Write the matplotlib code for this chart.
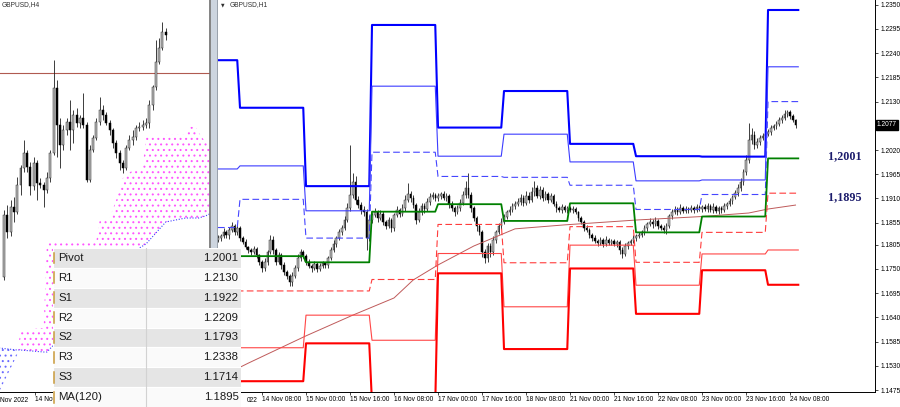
import numpy as np
import matplotlib
matplotlib.use("Agg")
import matplotlib.pyplot as plt
from matplotlib.patches import Rectangle

plt.rcParams['font.family'] = ['Liberation Sans', 'DejaVu Sans']
plt.rcParams['hatch.linewidth'] = 0.7

# ---------------- GBPUSD, H1 (right chart) ----------------
h1_first_open = 1.1816
h1_close = [
    1.1820, 1.1825, 1.1834, 1.1827, 1.1838, 1.1847, 1.1834, 1.1843,
    1.1820, 1.1811, 1.1800, 1.1793, 1.1788, 1.1795, 1.1782, 1.1766,
    1.1752, 1.1766, 1.1788, 1.1816, 1.1793, 1.1766, 1.1782, 1.1759,
    1.1743, 1.1734, 1.1720, 1.1734, 1.1752, 1.1775, 1.1788, 1.1779,
    1.1766, 1.1757, 1.1752, 1.1761, 1.1750, 1.1757, 1.1763, 1.1759,
    1.1775, 1.1793, 1.1807, 1.1820, 1.1834, 1.1843, 1.1861, 1.1888,
    1.1918, 1.1947, 1.1907, 1.1895, 1.1884, 1.1879, 1.1820, 1.1861,
    1.1872, 1.1879, 1.1866, 1.1875, 1.1857, 1.1847, 1.1861, 1.1843,
    1.1872, 1.1884, 1.1875, 1.1888, 1.1907, 1.1920, 1.1911, 1.1895,
    1.1861, 1.1879, 1.1893, 1.1886, 1.1902, 1.1913, 1.1918, 1.1911,
    1.1916, 1.1920, 1.1911, 1.1916, 1.1898, 1.1888, 1.1879, 1.1888,
    1.1900, 1.1918, 1.1934, 1.1918, 1.1888, 1.1866, 1.1847, 1.1834,
    1.1788, 1.1775, 1.1802, 1.1788, 1.1816, 1.1834, 1.1847, 1.1857,
    1.1868, 1.1879, 1.1884, 1.1893, 1.1898, 1.1902, 1.1911, 1.1900,
    1.1916, 1.1907, 1.1925, 1.1934, 1.1916, 1.1929, 1.1911, 1.1920,
    1.1907, 1.1916, 1.1898, 1.1888, 1.1884, 1.1891, 1.1884, 1.1888,
    1.1884, 1.1886, 1.1879, 1.1866, 1.1857, 1.1843, 1.1838, 1.1827,
    1.1820, 1.1813, 1.1809, 1.1816, 1.1807, 1.1816, 1.1809, 1.1813,
    1.1807, 1.1811, 1.1793, 1.1784, 1.1802, 1.1809, 1.1813, 1.1820,
    1.1825, 1.1827, 1.1834, 1.1843, 1.1852, 1.1857, 1.1852, 1.1859,
    1.1847, 1.1843, 1.1838, 1.1847, 1.1870, 1.1879, 1.1884, 1.1879,
    1.1888, 1.1882, 1.1886, 1.1884, 1.1888, 1.1884, 1.1891, 1.1886,
    1.1891, 1.1886, 1.1893, 1.1884, 1.1891, 1.1882, 1.1888, 1.1884,
    1.1893, 1.1898, 1.1904, 1.1913, 1.1922, 1.1934, 1.1947, 1.1970,
    1.1997, 1.2043, 1.2054, 1.2031, 1.2038, 1.2047, 1.2052, 1.2057,
    1.2061, 1.2070, 1.2075, 1.2079, 1.2088, 1.2093, 1.2102, 1.2106, 1.2097, 1.2088, 1.2077]
# wick length past the body, in pips
h1_wick_up = [
    6, 4, 8, 5, 7, 9, 4, 6,   5, 4, 6, 3, 5, 7, 4, 3,
    5, 8, 6, 12, 9, 5, 7, 4,  6, 5, 4, 8, 6, 9, 7, 5,
    4, 6, 5, 7, 4, 6, 5, 3,   5, 6, 8, 5, 7, 6, 9, 12,
    113, 20, 15, 8, 6, 10, 7, 12,  6, 9, 5, 8, 6, 4, 7, 5,
    6, 8, 5, 9, 12, 25, 8, 6,  5, 9, 7, 6, 8, 10, 6, 5,
    7, 5, 8, 6, 4, 6, 5, 7,   8, 10, 15, 34, 6, 5, 4, 6,
    5, 7, 8, 6, 9, 5, 7, 8,   6, 5, 8, 6, 7, 9, 10, 6,
    12, 8, 10, 15, 7, 9, 6, 8,  5, 7, 4, 6, 5, 6, 4, 5,
    4, 6, 5, 3, 5, 4, 6, 4,   5, 7, 4, 6, 5, 8, 4, 5,
    6, 4, 5, 7, 6, 5, 4, 6,   5, 6, 4, 7, 5, 9, 6, 8,
    4, 5, 6, 8, 5, 7, 10, 6,  9, 5, 6, 4, 7, 5, 6, 4,
    5, 6, 7, 5, 8, 4, 6, 5,   6, 5, 7, 6, 8, 9, 10, 7,
    12, 38, 15, 10, 9, 8, 6, 7,  6, 7, 5, 8, 6, 7, 9, 6,
    5, 4, 3]
h1_wick_dn = [
    5, 7, 4, 6, 8, 5, 7, 6,   6, 5, 4, 7, 6, 5, 8, 6,
    9, 6, 7, 5, 8, 6, 5, 9,   7, 6, 9, 8, 5, 6, 7, 4,
    6, 5, 8, 4, 7, 5, 6, 8,   6, 5, 4, 7, 5, 6, 4, 5,
    6, 8, 10, 7, 9, 8, 27, 6,  7, 5, 9, 6, 8, 7, 5, 10,
    6, 5, 8, 4, 6, 5, 9, 7,   10, 5, 6, 8, 4, 7, 5, 6,
    6, 8, 5, 7, 9, 6, 8, 5,   7, 5, 6, 8, 9, 7, 10, 8,
    12, 12, 9, 10, 6, 8, 5, 7,  6, 5, 7, 4, 8, 5, 6, 7,
    5, 8, 6, 9, 5, 7, 6, 5,   7, 5, 6, 8, 5, 6, 4, 6,
    5, 6, 4, 7, 6, 8, 5, 7,   6, 5, 8, 5, 7, 6, 5, 4,
    6, 7, 8, 9, 5, 6, 4, 5,   6, 4, 5, 7, 6, 5, 8, 4,
    7, 5, 6, 8, 4, 6, 5, 7,   5, 6, 4, 7, 5, 6, 4, 5,
    6, 5, 7, 4, 6, 5, 8, 6,   5, 6, 4, 7, 5, 6, 8, 6,
    7, 6, 9, 8, 6, 7, 5, 6,   5, 6, 4, 7, 5, 6, 4, 8,
    6, 5, 7]

# daily pivot levels: 11, 14, 15, 16, 17, 18, 21, 22, 23, 24 Nov
day_bars = [8, 24, 24, 24, 24, 24, 24, 24, 24, 12]
lvl_r3 = [1.2224, 1.2116, 1.1938, 1.2304, 1.2071, 1.2154, 1.2034, 1.2006, 1.2005, 1.2338]
lvl_r2 = [1.1977, 1.1984, 1.1882, 1.2165, 1.2006, 1.2056, 1.1993, 1.1950, 1.1952, 1.2209]
lvl_r1 = [1.1844, 1.1908, 1.1820, 1.2015, 1.1960, 1.1958, 1.1940, 1.1885, 1.1919, 1.2130]
lvl_pv = [1.1597, 1.1779, 1.1765, 1.1880, 1.1897, 1.1859, 1.1899, 1.1833, 1.1869, 1.2001]
lvl_s1 = [1.1464, 1.1700, 1.1700, 1.1726, 1.1851, 1.1764, 1.1846, 1.1765, 1.1833, 1.1922]
lvl_s2 = [1.1217, 1.1571, 1.1645, 1.1588, 1.1785, 1.1664, 1.1804, 1.1713, 1.1784, 1.1793]
lvl_s3 = [1.1084, 1.1495, 1.1581, 1.1445, 1.1740, 1.1568, 1.1751, 1.1648, 1.1747, 1.1714]

ma_bar = [-8, 3, 24, 41, 56, 63, 72, 85, 100, 118, 144, 168, 185, 192, 202]
ma_val = [1.1502, 1.1536, 1.1598, 1.1645, 1.1684, 1.1725, 1.1759, 1.1802, 1.1841,
          1.1850, 1.1861, 1.1869, 1.1877, 1.1886, 1.1895]

h1_xticks = [8, 24, 40, 56, 72, 88, 104, 120, 136, 152, 168, 184, 200]
h1_xlabels = ['14 Nov 08:00', '15 Nov 00:00', '15 Nov 16:00', '16 Nov 08:00',
              '17 Nov 00:00', '17 Nov 16:00', '18 Nov 08:00', '21 Nov 00:00', '21 Nov 16:00',
              '22 Nov 08:00', '23 Nov 00:00', '23 Nov 16:00', '24 Nov 08:00']
h1_yticks = [1.2350, 1.2295, 1.2240, 1.2185, 1.2130, 1.2020, 1.1965, 1.1910, 1.1855,
             1.1805, 1.1750, 1.1695, 1.1640, 1.1585, 1.1530, 1.1475]
last_price = 1.2077

# ---------------- GBPUSD, H4 (left chart) ----------------
h4_first_open = 1.1489
h4_close = [1.1644, 1.1601, 1.1664, 1.1651, 1.1719, 1.1761, 1.1799, 1.1764, 1.1716, 1.1774,
            1.1724, 1.1719, 1.1706, 1.1736, 1.1799, 1.1961, 1.1869, 1.1819, 1.1856, 1.1876,
            1.1856, 1.1894, 1.1874, 1.1886, 1.1869, 1.1731, 1.1806, 1.1836, 1.1876, 1.1906,
            1.1894, 1.1874, 1.1856, 1.1824, 1.1799, 1.1774, 1.1761, 1.1811, 1.1831, 1.1839,
            1.1861, 1.1864, 1.1869, 1.1874, 1.1919, 1.1964, 1.2026, 1.2061, 1.2101, 1.2094]
h4_high = [1.1656, 1.1669, 1.1681, 1.1689, 1.1739, 1.1769, 1.1831, 1.1806, 1.1776, 1.1789,
           1.1781, 1.1736, 1.1726, 1.1751, 1.1806, 1.2031, 1.1981, 1.1886, 1.1869, 1.1886,
           1.1931, 1.1906, 1.1911, 1.1894, 1.1949, 1.1876, 1.1819, 1.1844, 1.1886, 1.1939,
           1.1919, 1.1901, 1.1881, 1.1861, 1.1831, 1.1806, 1.1781, 1.1819, 1.1844, 1.1856,
           1.1869, 1.1876, 1.1881, 1.1886, 1.1931, 1.1969, 1.2081, 1.2086, 1.2126, 1.2111]
h4_low = [1.1481, 1.1586, 1.1591, 1.1626, 1.1646, 1.1694, 1.1751, 1.1751, 1.1694, 1.1706,
          1.1681, 1.1711, 1.1664, 1.1699, 1.1726, 1.1794, 1.1789, 1.1761, 1.1806, 1.1844,
          1.1806, 1.1824, 1.1864, 1.1861, 1.1861, 1.1726, 1.1726, 1.1801, 1.1831, 1.1869,
          1.1881, 1.1869, 1.1844, 1.1811, 1.1786, 1.1756, 1.1749, 1.1756, 1.1806, 1.1819,
          1.1831, 1.1854, 1.1856, 1.1861, 1.1861, 1.1906, 1.1956, 1.2021, 1.2056, 1.2081]
h4_hline = 1.1998
kumo_bar = [-1.5, 4, 5, 12, 13, 28, 29, 32, 34, 36, 39, 42, 43, 49, 55, 56, 58, 59, 61, 63]
kumo_a = [1.1201, 1.1294, 1.1356, 1.1361, 1.1581, 1.1581, 1.1631, 1.1636, 1.1681, 1.1736,
          1.1756, 1.1761, 1.1839, 1.1844, 1.1844, 1.1864, 1.1864, 1.1849, 1.1826, 1.1826]
kumo_b = [1.1311, 1.1306, 1.1306, 1.1301, 1.1301, 1.1431, 1.1451, 1.1476, 1.1501, 1.1526,
          1.1551, 1.1566, 1.1571, 1.1626, 1.1636, 1.1636, 1.1636, 1.1636, 1.1641, 1.1649]

table_names = ['Pivot', 'R1', 'S1', 'R2', 'S2', 'R3', 'S3', 'MA(120)']
table_values = ['1.2001', '1.2130', '1.1922', '1.2209', '1.1793', '1.2338', '1.1714', '1.1895']

W, H = 900, 407
fig = plt.figure(figsize=(W / 100, H / 100), dpi=100)


def fx(px):
    return px / W


def fy(py):
    return 1 - py / H


def draw_candles(ax, x, o, h, l, c, width):
    up = c >= o
    ax.vlines(x, l, h, color='#1e1e1e', lw=0.6, zorder=2)
    ax.bar(x[up], (c - o)[up], bottom=o[up], width=width, color='#b9b9b9',
           edgecolor='#2a2a2a', linewidth=0.35, zorder=3)
    ax.bar(x[~up], (c - o)[~up], bottom=o[~up], width=width, color='black',
           edgecolor='black', linewidth=0.35, zorder=3)


tick_font = 4.8

# ---- right chart ----
ax = fig.add_axes([fx(218), fy(392), fx(875) - fx(218), fy(0) - fy(392)])
ax.set_xlim(-8, 230.9)
ax.set_ylim(1.14705, 1.23607)

c = np.array(h1_close)
o = np.r_[h1_first_open, c[:-1]]
hi = np.maximum(o, c) + np.array(h1_wick_up) / 10000
lo = np.minimum(o, c) - np.array(h1_wick_dn) / 10000
xb = np.arange(-8, -8 + len(c))
draw_candles(ax, xb, o, hi, lo, c, 0.55)

xl = np.arange(-8, -8 + sum(day_bars))


def lv(v):
    return np.repeat(v, day_bars)


ax.plot(np.array(ma_bar), ma_val, color='#bf5a5a', lw=0.7, zorder=4)
ax.plot(xl, lv(lvl_r3), color='#0000ff', lw=1.5, zorder=5)
ax.plot(xl, lv(lvl_r2), color='#3c3cff', lw=0.8, zorder=5)
ax.plot(xl, lv(lvl_r1), color='#4646ff', lw=0.8, dashes=(6, 3), zorder=5)
ax.plot(xl, lv(lvl_pv), color='#008000', lw=1.3, zorder=5)
ax.plot(xl, lv(lvl_s1), color='#ff3c3c', lw=0.8, dashes=(6, 3), zorder=5)
ax.plot(xl, lv(lvl_s2), color='#ff4646', lw=0.8, zorder=5)
ax.plot(xl, lv(lvl_s3), color='#ff0000', lw=1.5, zorder=5)

ax.text(213.8, 1.2007, '1,2001', family='Liberation Serif', weight='bold', fontsize=8.7,
        color='#1c1c6c', ha='left', va='center')
ax.text(213.8, 1.1914, '1,1895', family='Liberation Serif', weight='bold', fontsize=8.7,
        color='#1c1c6c', ha='left', va='center')

ax.yaxis.tick_right()
ax.set_yticks(h1_yticks)
ax.set_yticklabels(['%.4f' % v for v in h1_yticks])
ax.set_xticks(h1_xticks)
ax.set_xticklabels(h1_xlabels, ha='left')
ax.tick_params(axis='both', labelsize=tick_font, length=2.2, width=0.5, color='black')
ax.tick_params(axis='x', pad=1.0)
ax.tick_params(axis='y', pad=1.5)
for s in ('top', 'left'):
    ax.spines[s].set_visible(False)
for s in ('right', 'bottom'):
    ax.spines[s].set_linewidth(0.7)
# tail of the first date label, the rest sits under the table
ax.text(6.5, -0.012, '022', transform=ax.get_xaxis_transform(), ha='right', va='top',
        fontsize=tick_font)
ax.text(1.003, last_price, '%.4f' % last_price, transform=ax.get_yaxis_transform(),
        fontsize=tick_font, color='white', ha='left', va='center',
        bbox=dict(boxstyle='square,pad=0.2', fc='black', ec='black'))
ax.text(0.004, 0.988, '\u25bc', transform=ax.transAxes, fontsize=3.3, color='#303030',
        ha='left', va='center', family='DejaVu Sans')
ax.text(0.017, 0.988, 'GBPUSD,H1', transform=ax.transAxes, fontsize=tick_font,
        color='#303030', ha='left', va='center')

# ---- left chart ----
axl = fig.add_axes([0, fy(392), fx(210), fy(0) - fy(392)])
axl.set_xlim(-1.21, 62.4)
axl.set_ylim(1.1201, 1.2181)
kb = np.array(kumo_bar)
ka = np.array(kumo_a)
kbb = np.array(kumo_b)
axl.fill_between(kb, ka, kbb, where=ka >= kbb, interpolate=True, facecolor='none',
                 edgecolor='#ff55ff', hatch='...', linewidth=0, zorder=1)
axl.fill_between(kb, ka, kbb, where=ka < kbb, interpolate=True, facecolor='none',
                 edgecolor='#6a6aff', hatch='...', linewidth=0, zorder=1)
axl.plot(kb, kbb, color='#4040ff', lw=0.8, ls=(0, (1, 1.5)), zorder=1)
axl.axhline(h4_hline, color='#b05a50', lw=0.8, zorder=1)

c4 = np.array(h4_close)
o4 = np.r_[h4_first_open, c4[:-1]]
draw_candles(axl, np.arange(len(c4)), o4, np.array(h4_high), np.array(h4_low), c4, 0.6)

axl.set_yticks([])
axl.set_xticks([9.4])
axl.set_xticklabels(['14 Nov'], ha='left')
axl.tick_params(axis='x', labelsize=tick_font, length=2.2, width=0.5, pad=1.0)
axl.text(0.0, -0.012, 'Nov 2022', transform=axl.transAxes, ha='left',
         va='top', fontsize=tick_font)
for s in ('top', 'left'):
    axl.spines[s].set_visible(False)
axl.spines['bottom'].set_linewidth(0.7)
axl.spines['right'].set_color('#6e6e6e')
axl.spines['right'].set_linewidth(1.2)
axl.text(0.01, 0.988, 'GBPUSD,H4', transform=axl.transAxes, fontsize=tick_font,
         color='#303030', ha='left', va='center')

# window separator between the two charts (drawn beneath the axes layer)
fig.patches.append(Rectangle((fx(210.5), 0), fx(7), 1, transform=fig.transFigure,
                             facecolor='#cdd5df', edgecolor='none', zorder=-2))
fig.patches.append(Rectangle((fx(217), 0), fx(1), 1, transform=fig.transFigure,
                             facecolor='#9aa2ac', edgecolor='none', zorder=-2))

# ---- pivot table ----
tab = fig.add_axes([fx(53), 0, fx(241) - fx(53), 159 / H])
tab.set_zorder(10)
tab.set_xlim(0, 188)
tab.set_ylim(159, 0)
tab.axis('off')
rh = 159 / len(table_names)
for r, (name, val) in enumerate(zip(table_names, table_values)):
    fc = '#e5e5e5' if r % 2 == 0 else '#fafafa'
    tab.add_patch(Rectangle((0, r * rh), 188, rh, facecolor=fc, edgecolor='white', lw=0.8))
    tab.plot([1.0, 1.0], [r * rh + 4.5, (r + 1) * rh - 4.5], color='#c99a3a', lw=1.1)
    tab.text(5, (r + 0.5) * rh, name, ha='left', va='center', fontsize=8.2, color='#1a1a1a')
    tab.text(185.5, (r + 0.5) * rh, val, ha='right', va='center', fontsize=8.2, color='#1a1a1a')
tab.plot([93, 93], [0, 159], color='#d2d2d2', lw=0.8)

fig.savefig('out.png', dpi=100)
